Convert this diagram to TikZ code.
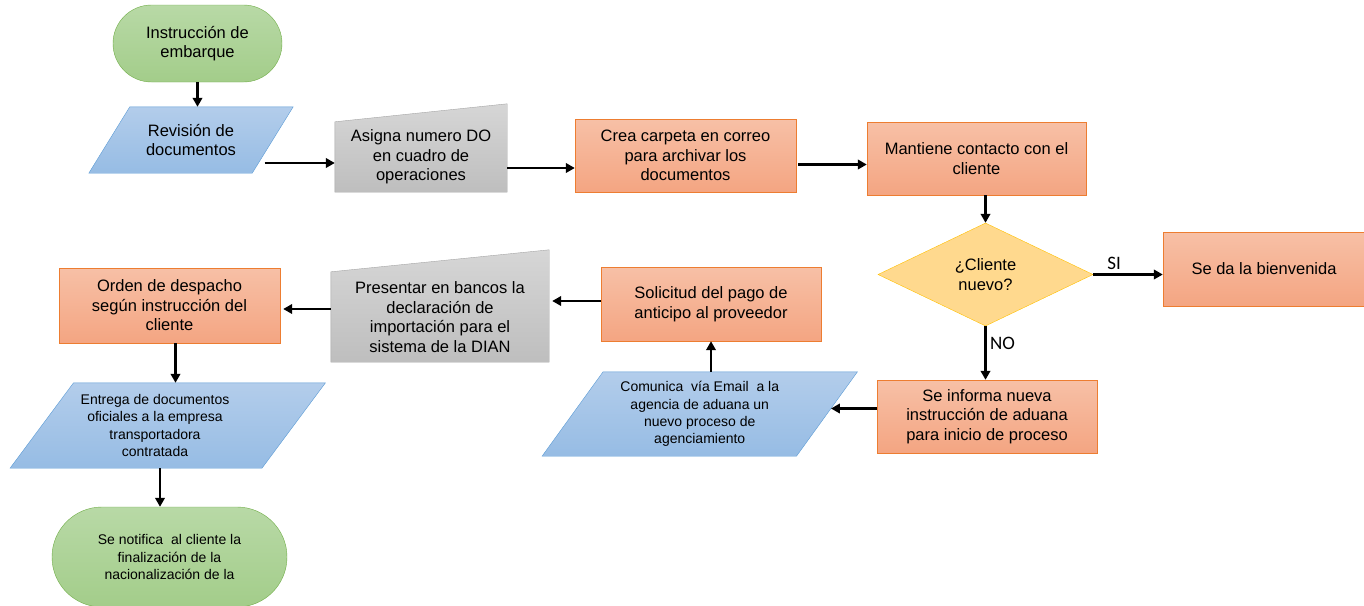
\documentclass[tikz,border=0pt]{standalone}
\usepackage{fontspec}
\setmainfont{Liberation Sans}
\newfontfamily\labelfont{Carlito}
\usetikzlibrary{shapes.geometric,shapes.misc,arrows.meta,backgrounds}
\definecolor{greenline}{HTML}{70AD47}
\definecolor{greentop}{HTML}{B8D9A6}
\definecolor{greenbot}{HTML}{A3CD8A}
\definecolor{orangeline}{HTML}{ED7D31}
\definecolor{orangetop}{HTML}{F7C0A6}
\definecolor{orangebot}{HTML}{F4A582}
\definecolor{blueline}{HTML}{5B9BD5}
\definecolor{bluetop}{HTML}{B3CDEB}
\definecolor{bluebot}{HTML}{96BCE4}
\definecolor{grayline}{HTML}{A5A5A5}
\definecolor{graytop}{HTML}{D6D6D6}
\definecolor{graybot}{HTML}{BEBEBE}
\definecolor{yellowline}{HTML}{FFC000}
\definecolor{yellowfill}{HTML}{FFD98E}
\tikzset{
  big/.style={font=\fontsize{16.5}{19.5}\selectfont},
  small/.style={font=\fontsize{14}{17.3}\selectfont},
  terminal/.style={rounded rectangle, draw=greenline, top color=greentop, bottom color=greenbot, align=center, inner sep=0pt},
  process/.style={rectangle, draw=orangeline, top color=orangetop, bottom color=orangebot, align=center, inner sep=0pt, big},
  decision/.style={diamond, draw=yellowline, fill=yellowfill, align=center, inner sep=0pt, big},
  boxtext/.style={rectangle, align=center, inner sep=0pt},
  iofill/.style={draw=blueline, top color=bluetop, bottom color=bluebot},
  manualfill/.style={draw=grayline, top color=graytop, bottom color=graybot},
  arr/.style={-{Triangle[length=9pt,width=9.5pt]}, line width=2.6pt},
  yesno/.style={font=\labelfont\fontsize{19}{22}\selectfont}
}
\begin{document}
\begin{tikzpicture}[x=1pt,y=-1pt]
    \useasboundingbox (0,0) rectangle (1364,605);
    \clip (0,0) rectangle (1364,605);
    \node[terminal, big, minimum width=169pt, minimum height=77pt] (inicio) at (197.5,43.5) {Instrucción de\\embarque};
    \node[boxtext, big, minimum width=163pt, minimum height=66pt] (revision) at (191,140) {Revisión de\\documentos};
    \node[boxtext, big, minimum width=172pt, minimum height=70pt] (asigna) at (421,157) {Asigna numero DO\\en cuadro de\\operaciones};
    \node[process, minimum width=221pt, minimum height=73pt] (carpeta) at (685.5,155.5) {Crea carpeta en correo\\para archivar los\\documentos};
    \node[process, minimum width=219pt, minimum height=73pt] (contacto) at (976.5,158.5) {Mantiene contacto con el\\cliente};
    \node[decision, minimum width=215pt, minimum height=103pt] (nuevo) at (985.5,274.5) {¿Cliente\\nuevo?};
    \node[process, minimum width=202pt, minimum height=74pt] (bienvenida) at (1264,269) {Se da la bienvenida};
    \node[process, minimum width=220pt, minimum height=73pt] (informa) at (987,416.5) {Se informa nueva\\instrucción de aduana\\para inicio de proceso};
    \node[boxtext, small, minimum width=254pt, minimum height=84pt] (comunica) at (699.75,414) {Comunica\ \ vía Email\ \ a la\\agencia de aduana un\\nuevo proceso de\\agenciamiento};
    \node[process, minimum width=220pt, minimum height=74pt] (solicitud) at (711,304) {Solicitud del pago de\\anticipo al proveedor};
    \node[boxtext, big, minimum width=218pt, minimum height=90pt] (bancos) at (440,317) {Presentar en bancos la\\declaración de\\importación para el\\sistema de la DIAN};
    \node[process, minimum width=221pt, minimum height=75pt] (despacho) at (169.5,305.5) {Orden de despacho\\según instrucción del\\cliente};
    \node[boxtext, small, minimum width=251.5pt, minimum height=85pt] (entrega) at (155,425.5) {Entrega de documentos\\oficiales a la empresa\\transportadora\\contratada};
    \node[terminal, small, minimum width=235pt, minimum height=100pt] (fin) at (169.5,557) {Se notifica\ \ al cliente la\\finalización de la\\nacionalización de la};
    \begin{pgfonlayer}{background}
        \draw[iofill] ([xshift=-20.5pt]revision.south west) -- ([xshift=-20.5pt]revision.south east) -- ([xshift=20.5pt]revision.north east) -- ([xshift=20.5pt]revision.north west) -- cycle;
        \draw[iofill] ([xshift=-30.5pt]comunica.south west) -- ([xshift=-30.5pt]comunica.south east) -- ([xshift=30.5pt]comunica.north east) -- ([xshift=30.5pt]comunica.north west) -- cycle;
        \draw[iofill] ([xshift=-19pt]entrega.south west) -- ([xshift=-19pt]entrega.south east) -- ([xshift=44.5pt]entrega.north east) -- ([xshift=44.5pt]entrega.north west) -- cycle;
        \draw[manualfill] (asigna.south west) -- (asigna.south east) -- ([yshift=18pt]asigna.north east) -- (asigna.north west) -- cycle;
        \draw[manualfill] (bancos.south west) -- (bancos.south east) -- ([yshift=22pt]bancos.north east) -- (bancos.north west) -- cycle;
    \end{pgfonlayer}
    \draw[arr] (inicio) -- (inicio |- revision.north);
    \draw[arr] ([xshift=-8pt,yshift=-23pt]revision.east) -- ([yshift=-6pt]asigna.west);
    \draw[arr] ([yshift=-11pt]asigna.east) -- ([yshift=-11pt]asigna.east -| carpeta.west);
    \draw[arr] ([xshift=2pt,yshift=-9pt]carpeta.east) -- ([yshift=-9pt]carpeta.east -| contacto.west);
    \draw[arr] (nuevo |- contacto.south) -- (nuevo.north);
    \draw[arr] (nuevo.east) -- (nuevo.east -| bienvenida.west) node[pos=0.3, above, yesno] {SI};
    \draw[arr] (nuevo.south) -- (nuevo.south |- informa.north) node[pos=0.33, right, yesno] {NO};
    \draw[arr] ([yshift=8pt]informa.west) -- ([yshift=8pt,xshift=4pt]informa.west -| comunica.east);
    \draw[arr] (comunica.north -| solicitud) -- (solicitud.south);
    \draw[arr] ([yshift=3pt]solicitud.west) -- ([yshift=3pt,xshift=3pt]solicitud.west -| bancos.east);
    \draw[arr] ([yshift=8pt]bancos.west) -- ([yshift=8pt,xshift=3pt]bancos.west -| despacho.east);
    \draw[arr] ([xshift=6pt]despacho.south) -- ([xshift=6pt]despacho.south |- entrega.north);
    \draw[arr] ([xshift=5pt]entrega.south) -- ([xshift=5pt]entrega.south |- fin.north);
\end{tikzpicture}
\end{document}
